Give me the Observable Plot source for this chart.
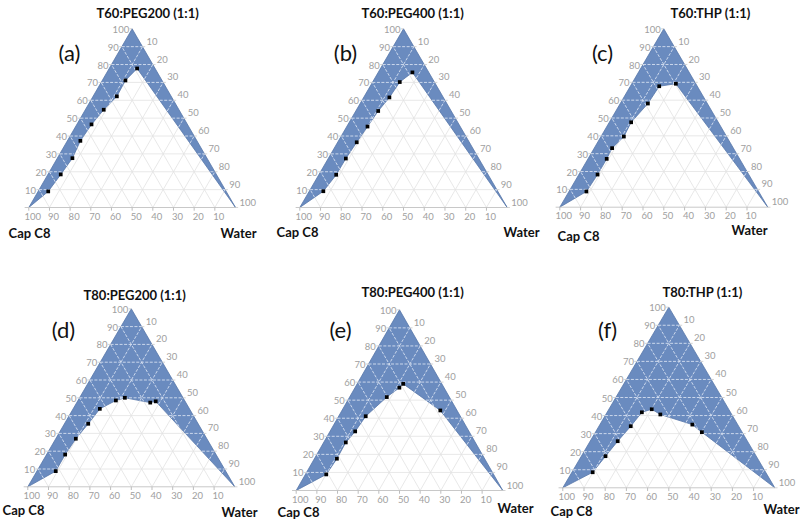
<!DOCTYPE html>
<html><head><meta charset="utf-8">
<script src="https://cdn.jsdelivr.net/npm/d3@7"></script>
<script src="https://cdn.jsdelivr.net/npm/@observablehq/plot@0.6"></script>
<style>
html,body{margin:0;padding:0;background:#fff;}
#chart{position:relative;width:800px;height:523px;overflow:hidden;font-family:Lato,sans-serif;}
.panel{position:absolute;}
.panel svg{overflow:visible;}
</style></head><body><div id="chart"></div>
<script>
// ---------- DATA ----------
const panelTitles = ["T60:PEG200 (1:1)", "T60:PEG400 (1:1)", "T60:THP (1:1)",
                     "T80:PEG200 (1:1)", "T80:PEG400 (1:1)", "T80:THP (1:1)"];
const panelLetters = ["(a)", "(b)", "(c)", "(d)", "(e)", "(f)"];
const vertexLabels = ["Cap C8", "Water"];
const axisTicks = [10, 20, 30, 40, 50, 60, 70, 80, 90, 100];

// boundary points: Smix % and Water % (Cap C8 % = remainder)
const smixA  = [9.0, 18.5, 27.6, 37.3, 46.5, 54.7, 62.2, 71.1, 77.8];
const waterA = [4.9, 6.2, 7.3, 6.3, 7.1, 8.9, 11.5, 11.2, 13.5];
const smixB  = [9.1, 18.3, 27.4, 36.5, 45.3, 54.0, 61.6, 70.2, 75.6];
const waterB = [6.8, 8.4, 8.5, 9.2, 10.0, 10.8, 12.4, 13.1, 16.5];
const smixC  = [8.8, 18.3, 27.1, 33.1, 39.6, 47.6, 58.1, 67.8, 69.2];
const waterC = [8.4, 9.0, 9.0, 8.6, 11.0, 10.5, 13.3, 13.9, 21.2];
const smixD  = [8.8, 18.1, 27.0, 35.4, 43.8, 48.5, 50.0, 47.3, 48.0];
const waterD = [9.1, 9.0, 9.7, 11.5, 12.9, 18.3, 21.9, 35.5, 37.8];
const smixE  = [8.9, 17.6, 26.6, 32.7, 41.1, 51.7, 56.9, 59.0, 44.3];
const waterE = [10.1, 10.9, 10.7, 12.2, 13.1, 18.0, 21.5, 22.3, 47.6];
const smixF  = [8.6, 17.5, 25.8, 34.1, 41.8, 43.5, 40.6, 35.0, 30.8];
const waterF = [9.8, 11.4, 13.0, 15.0, 16.4, 20.2, 25.7, 43.6, 50.2];

const smixSets = [smixA, smixB, smixC, smixD, smixE, smixF];
const waterSets = [waterA, waterB, waterC, waterD, waterE, waterF];

// ---------- LAYOUT (page pixels) ----------
const layout = [
  {ox:0,   oy:0,   w:265, h:262, L:28.3,  R:235,   base:207,   apex:28.3,  title:[96,13],  letter:[69,53],  cap:[29,233],  water:[238,233]},
  {ox:265, oy:0,   w:265, h:262, L:299.3, R:506.7, base:207,   apex:28.3,  title:[361,13], letter:[345,53], cap:[297,232], water:[521,232]},
  {ox:530, oy:0,   w:270, h:262, L:559.3, R:767.3, base:206.7, apex:28.3,  title:[670,13], letter:[602,53], cap:[578,236], water:[749,230]},
  {ox:0,   oy:262, w:265, h:261, L:27.3,  R:234.3, base:486.3, apex:308.3, title:[83,295], letter:[63,330], cap:[23,510],  water:[239,512]},
  {ox:265, oy:262, w:265, h:261, L:295.7, R:502.3, base:490,   apex:309.3, title:[361,292],letter:[340,330],cap:[298,512], water:[515,508]},
  {ox:530, oy:262, w:270, h:261, L:562.3, R:774.3, base:487.3, apex:306.7, title:[662,292],letter:[607,330],cap:[571,511], water:[781,509]}
];

const BLUE = "#6a8bbf", BLUE_EDGE = "#5877aa", GRID_OUT = "#e2e2e2", GRID_IN = "#d6e0f0", LABEL = "#a0a0a0";

// ternary (S, W fractions) -> cartesian X in [0,1], Y = S
const toXY = (s, w) => [w + s / 2, s];

function gridRuns(poly) {
  const inside = [], outside = [];
  for (let k = 1; k <= 9; k++) {
    const t = k / 10;
    const lines = [
      [[t / 2, t], [1 - t / 2, t]],
      [[t, 0], [t + (1 - t) / 2, 1 - t]],
      [[1 - t, 0], [(1 - t) / 2, 1 - t]]
    ];
    for (const [a, b] of lines) {
      const N = 300;
      let start = 0, state = null;
      const pt = u => [a[0] + (b[0] - a[0]) * u, a[1] + (b[1] - a[1]) * u];
      for (let i = 0; i < N; i++) {
        const m = pt((i + 0.5) / N);
        const inn = d3.polygonContains(poly, m);
        if (state === null) { state = inn; start = 0; }
        else if (inn !== state) {
          const p0 = pt(start / N), p1 = pt(i / N);
          (state ? inside : outside).push({x1: p0[0], y1: p0[1], x2: p1[0], y2: p1[1]});
          state = inn; start = i;
        }
      }
      const p0 = pt(start / N), p1 = pt(1);
      (state ? inside : outside).push({x1: p0[0], y1: p0[1], x2: p1[0], y2: p1[1]});
    }
  }
  return {inside, outside};
}

const chart = document.getElementById("chart");

layout.forEach((lay, i) => {
  const pts = smixSets[i].map((s, j) => {
    const [X, Y] = toXY(s / 100, waterSets[i][j] / 100);
    return {X, Y};
  });
  const poly = [[0, 0], ...pts.map(p => [p.X, p.Y]), [1, 0], [0.5, 1]];
  const polyClosed = [...poly, [0, 0]];
  const {inside, outside} = gridRuns(poly);

  const leftLab = axisTicks.map(t => ({X: t / 200, Y: t / 100, t}));
  const rightLab = axisTicks.map(t => ({X: 0.5 + t / 200, Y: 1 - t / 100, t}));
  const bottomLab = axisTicks.map(t => ({X: 1 - t / 100, Y: 0, t}));

  const local = (p) => [p[0] - lay.ox, p[1] - lay.oy];
  const ttl = local(lay.title), let_ = local(lay.letter);
  const capOff = [lay.cap[0] - lay.L, lay.cap[1] - lay.base];
  const watOff = [lay.water[0] - lay.R, lay.water[1] - lay.base];

  const plot = Plot.plot({
    width: lay.w, height: lay.h,
    margin: 0,
    x: {domain: [0, 1], range: [lay.L - lay.ox, lay.R - lay.ox], axis: null},
    y: {domain: [0, 1], range: [lay.base - lay.oy, lay.apex - lay.oy], axis: null},
    style: {fontFamily: "Lato, sans-serif", background: "transparent", overflow: "visible"},
    marks: [
      Plot.link(outside, {x1: "x1", y1: "y1", x2: "x2", y2: "y2", stroke: GRID_OUT, strokeWidth: 0.8}),
      Plot.line(polyClosed, {x: d => d[0], y: d => d[1], fill: BLUE, stroke: BLUE_EDGE, strokeWidth: 0.8, curve: "linear"}),
      Plot.link(inside, {x1: "x1", y1: "y1", x2: "x2", y2: "y2", stroke: GRID_IN, strokeWidth: 0.9, strokeDasharray: "3,1.5"}),
      // base line & ticks
      Plot.link([{x1: -0.02, x2: 1.0}], {x1: "x1", x2: "x2", y1: () => 0, y2: () => 0, stroke: "#c8c8c8", strokeWidth: 1}),
      Plot.link(bottomLab, {x1: "X", x2: "X", y1: "Y", y2: d => -0.018, stroke: "#bdbdbd", strokeWidth: 1}),
      Plot.link(leftLab, {x1: "X", x2: d => d.X - 0.013, y1: "Y", y2: "Y", stroke: "#c8c8c8", strokeWidth: 0.8}),
      Plot.link(rightLab, {x1: "X", x2: d => d.X + 0.013, y1: "Y", y2: "Y", stroke: "#c8c8c8", strokeWidth: 0.8}),
      // axis labels
      Plot.text(leftLab, {x: "X", y: "Y", text: d => String(d.t), textAnchor: "end", dx: -3, dy: 1, fontSize: 9.5, fill: LABEL}),
      Plot.text(rightLab, {x: "X", y: "Y", text: d => String(d.t), textAnchor: "start", dx: 4, dy: -5, fontSize: 9.5, fill: LABEL}),
      Plot.text(bottomLab, {x: "X", y: "Y", text: d => String(d.t), textAnchor: "middle", dx: 4, dy: 9, fontSize: 9.5, fill: LABEL}),
      // points
      Plot.dot(pts, {x: "X", y: "Y", symbol: "square", r: 2.1, fill: "black", stroke: "none"}),
      // vertex labels
      Plot.text([vertexLabels[0]], {x: () => 0, y: () => 0, text: d => d, dx: capOff[0], dy: capOff[1], fontSize: 13, fontWeight: "bold", fill: "#111"}),
      Plot.text([vertexLabels[1]], {x: () => 1, y: () => 0, text: d => d, dx: watOff[0], dy: watOff[1], fontSize: 13, fontWeight: "bold", fill: "#111"}),
      // title and letter
      Plot.text([panelTitles[i]], {frameAnchor: "top-left", text: d => d, dx: ttl[0], dy: ttl[1], textAnchor: "start", lineAnchor: "middle", fontSize: 13, fontWeight: "bold", fill: "#111"}),
      Plot.text([panelLetters[i]], {frameAnchor: "top-left", text: d => d, dx: let_[0], dy: let_[1], textAnchor: "middle", lineAnchor: "middle", fontSize: 22, fill: "#111"})
    ]
  });
  const div = document.createElement("div");
  div.className = "panel";
  div.style.left = lay.ox + "px";
  div.style.top = lay.oy + "px";
  div.style.width = lay.w + "px";
  div.style.height = lay.h + "px";
  div.appendChild(plot);
  chart.appendChild(div);
});
</script>
</body></html>
